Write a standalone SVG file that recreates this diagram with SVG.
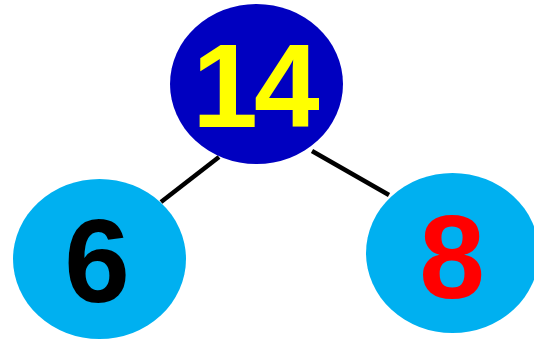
<svg xmlns="http://www.w3.org/2000/svg" width="534" height="340" viewBox="0 0 534 340">
<style>
.num{font-family:"Liberation Sans",Arial,sans-serif;font-weight:bold;font-size:118px;text-anchor:middle}
.edge{stroke:#000;stroke-width:4.5;fill:none}
.leaf{fill:#00b0f0}
</style>
<rect width="534" height="340" fill="#fff"/>
<g id="connectors">
<line class="edge" x1="219" y1="157" x2="161" y2="202"/>
<line class="edge" x1="312" y1="151" x2="389" y2="195"/>
</g>
<g id="node-14">
<ellipse cx="256.5" cy="84" rx="86.5" ry="80" fill="#0000c0"/>
<text class="num" x="254" y="127" fill="#ffff00" letter-spacing="-4">14</text>
</g>
<g id="node-6">
<ellipse class="leaf" cx="99.5" cy="259" rx="86.5" ry="80"/>
<text class="num" x="97" y="302" fill="#000">6</text>
</g>
<g id="node-8">
<ellipse class="leaf" cx="452.5" cy="253" rx="86.5" ry="80"/>
<text class="num" x="452" y="298" fill="#ff0000">8</text>
</g>
</svg>
